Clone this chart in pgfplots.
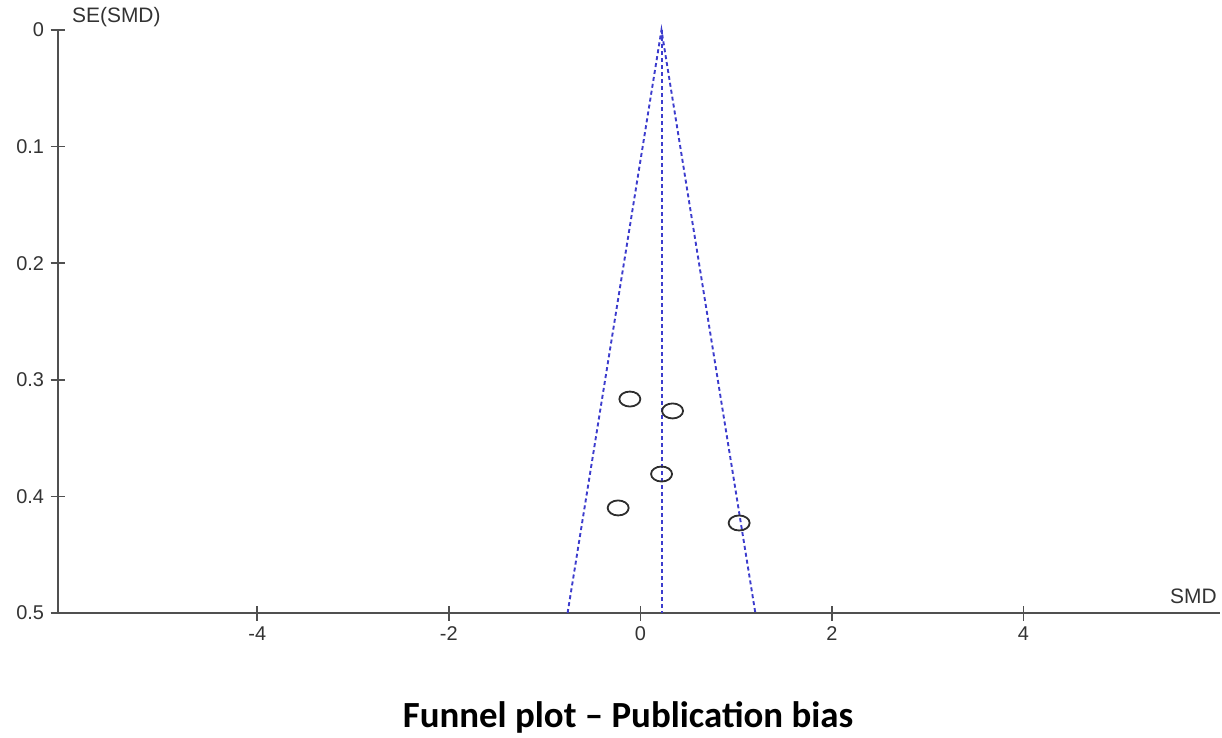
\documentclass[border=0pt]{standalone}
\usepackage{pgfplots}
\pgfplotsset{compat=1.18}
\usepackage{fontspec}
\setmainfont{Liberation Sans}
\newfontfamily\carlito{Carlito}
\definecolor{funnelblue}{RGB}{60,60,205}
\definecolor{axgray}{RGB}{80,80,80}
\definecolor{ptgray}{RGB}{45,45,45}
\begin{document}
\begin{tikzpicture}
\path[use as bounding box] (-58bp,-125bp) rectangle (1164bp,613bp);
\begin{axis}[
  at={(0bp,0bp)}, anchor=south west,
  scale only axis, width=1162bp, height=583bp,
  xmin=-6.08, xmax=6.05, ymin=0, ymax=0.5,
  y dir=reverse,
  axis lines*=left,
  axis line style={axgray, line width=1.8bp},
  xtick={-4,-2,0,2,4}, xticklabels={-4,-2,0,2,4},
  ytick={0,0.1,0.2,0.3,0.4,0.5}, yticklabels={0,0.1,0.2,0.3,0.4,0.5},
  tick align=center, major tick length=15bp,
  tick style={axgray, line width=1.5bp},
  ticklabel style={font=\fontsize{20}{20}\selectfont, text=black!80},
  xticklabel style={yshift=-3bp},
  yticklabel style={xshift=-3bp},
  clip=false,
]
\addplot[funnelblue, line width=1.9bp, dash pattern=on 4bp off 3bp] coordinates {(-0.76,0.5) (0.22,0) (1.20,0.5)};
\addplot[draw=funnelblue, line width=2.2bp, dash pattern=on 4bp off 3bp] coordinates {(0.225,0) (0.225,0.5)};
\addplot[only marks, mark=o, mark size=7.5bp, mark options={xscale=1.4, ptgray, line width=1.8bp}] coordinates {
(-0.11,0.3165) (0.336,0.3267) (0.221,0.3808) (-0.232,0.4099) (1.031,0.4228)};
\node[anchor=west, font=\fontsize{21}{21}\selectfont, text=black!80, inner sep=0pt] at (axis description cs:0,1) [xshift=14bp, yshift=13bp] {SE(SMD)};
\node[anchor=south east, font=\fontsize{21}{21}\selectfont, text=black!80, inner sep=0pt] at (axis description cs:1,0) [xshift=-3bp, yshift=9bp] {SMD};
\end{axis}
\node[font=\carlito\bfseries\fontsize{37}{37}\selectfont, anchor=base] at (570bp,-114bp) {Funnel plot \textendash\ Publication bias};
\end{tikzpicture}
\end{document}
